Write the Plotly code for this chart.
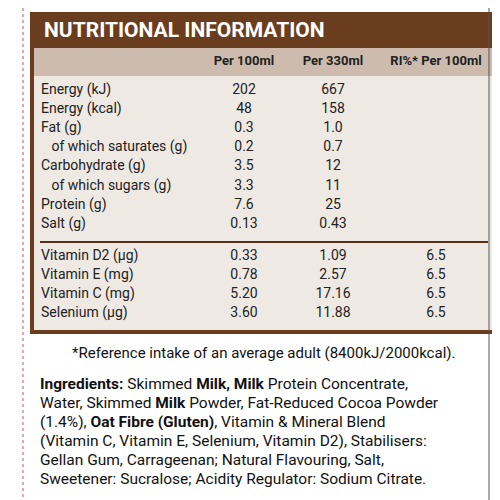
import plotly.graph_objects as go

labels = ["Energy (kJ)", "Energy (kcal)", "Fat (g)", "   of which saturates (g)", "Carbohydrate (g)",
          "   of which sugars (g)", "Protein (g)", "Salt (g)",
          "Vitamin D2 (µg)", "Vitamin E (mg)", "Vitamin C (mg)", "Selenium (µg)"]
per100 = ["202", "48", "0.3", "0.2", "3.5", "3.3", "7.6", "0.13", "0.33", "0.78", "5.20", "3.60"]
per330 = ["667", "158", "1.0", "0.7", "12", "11", "25", "0.43", "1.09", "2.57", "17.16", "11.88"]
ri = ["", "", "", "", "", "", "", "", "6.5", "6.5", "6.5", "6.5"]
headers = ["Per 100ml", "Per 330ml", "RI%* Per 100ml"]
ingredients = [
    "<b>Ingredients:</b> Skimmed <b>Milk, Milk</b> Protein Concentrate,",
    "Water, Skimmed <b>Milk</b> Powder, Fat-Reduced Cocoa Powder",
    "(1.4%), <b>Oat Fibre (Gluten)</b>, Vitamin & Mineral Blend",
    "(Vitamin C, Vitamin E, Selenium, Vitamin D2), Stabilisers:",
    "Gellan Gum, Carrageenan; Natural Flavouring, Salt,",
    "Sweetener: Sucralose; Acidity Regulator: Sodium Citrate.",
]
footnote = "*Reference intake of an average adult (8400kJ/2000kcal)."

FONT = "Roboto, Arial"
row_y = [82 + 19.2 * i for i in range(8)] + [248 + 19.2 * i for i in range(4)]

fig = go.Figure()
# box shapes
fig.add_shape(type="rect", x0=22, x1=491, y0=4, y1=326, fillcolor="#6b3d1f", line_width=0, layer="below")
fig.add_shape(type="rect", x0=26, x1=487, y0=40, y1=322, fillcolor="#efe9e4", line_width=0, layer="below")
fig.add_shape(type="rect", x0=26, x1=487, y0=40, y1=68, fillcolor="#cdbcad", line_width=0, layer="below")
fig.add_shape(type="line", x0=32, x1=480, y0=234, y1=234, line=dict(color="#5a3018", width=2), layer="below")
fig.add_shape(type="line", x0=15, x1=15, y0=0, y1=500, line=dict(color="#e08a9a", width=1.5, dash="dot"))
fig.add_shape(type="line", x0=481, x1=481, y0=0, y1=500, line=dict(color="#555", width=1))

fig.add_trace(go.Scatter(x=[33] * len(labels), y=row_y, text=labels, mode="text",
                         textposition="middle right", textfont=dict(family=FONT, size=14, color="#222")))
for cx, col in zip([236, 325, 428], [per100, per330, ri]):
    fig.add_trace(go.Scatter(x=[cx] * len(col), y=row_y, text=col, mode="text",
                             textposition="middle center", textfont=dict(family=FONT, size=14, color="#222")))
fig.add_trace(go.Scatter(x=[236, 325, 428], y=[54] * 3, text=["<b>%s</b>" % h for h in headers], mode="text",
                         textposition="middle center", textfont=dict(family=FONT, size=13, color="#222")))

fig.add_annotation(x=34, y=22, text="<b>NUTRITIONAL INFORMATION</b>", showarrow=False, xanchor="left",
                   font=dict(family=FONT, size=21, color="white"))
fig.add_annotation(x=255, y=345, text=footnote, showarrow=False, font=dict(family=FONT, size=15, color="#111"))
for i, line in enumerate(ingredients):
    fig.add_annotation(x=30, y=376 + 19 * i, text=line, showarrow=False, xanchor="left",
                       font=dict(family=FONT, size=15.5, color="#111"))

fig.update_layout(width=500, height=500, margin=dict(l=0, r=0, t=0, b=0), showlegend=False,
                  plot_bgcolor="white", paper_bgcolor="white",
                  xaxis=dict(range=[0, 500], visible=False, fixedrange=True),
                  yaxis=dict(range=[500, 0], visible=False, fixedrange=True))
fig.write_html("out.html")
